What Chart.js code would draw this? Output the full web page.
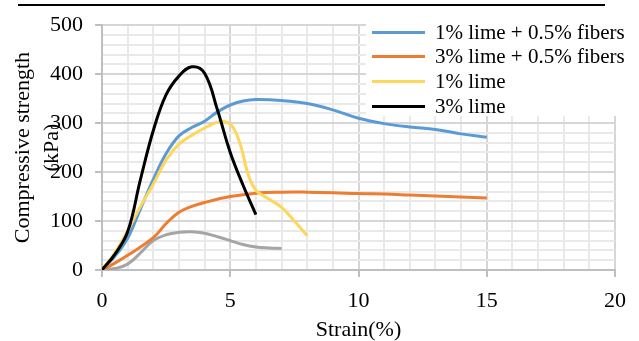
<!DOCTYPE html>
<html>
<head>
<meta charset="utf-8">
<script src="https://cdn.jsdelivr.net/npm/chart.js@4/dist/chart.umd.min.js"></script>
<style>
  html, body { margin: 0; padding: 0; background: #fff; overflow: hidden; }
  #wrap { position: relative; width: 639px; height: 341px; }
  #rule { position: absolute; left: 18px; top: 4px; width: 587px; height: 2px; background: #000; }
  #legend {
    position: absolute; left: 366px; top: 20px; width: 270px; height: 96px;
    background: #fff; font-family: "Liberation Serif", "Times New Roman", serif; font-size: 21px; color: #000;
  }
  .row { display: flex; align-items: center; height: 24.6px; }
  .swatch { width: 53px; height: 3px; margin-left: 6px; margin-right: 10px; }
</style>
</head>
<body>
<div id="wrap">
  <canvas id="chart" width="639" height="341"></canvas>
  <div id="rule"></div>
  <div id="legend"></div>
</div>
<script>
// Strain (%) vs compressive strength (kPa)
const blueStrain = [0, 0.5, 1, 1.5, 2, 2.5, 3, 3.5, 4, 4.5, 5, 5.5, 6, 7, 8, 9, 10, 11, 12, 13, 14, 15];
const blueStress = [0, 28, 65, 125, 185, 238, 274, 291, 304, 323, 337, 345, 348, 346, 340, 327, 310, 299, 292, 287, 278, 271];

const orangeStrain = [0, 0.5, 1, 2, 2.5, 3, 3.5, 4, 5, 6, 7, 8, 9, 10, 11, 12, 13, 14, 15];
const orangeStress = [0, 14, 30, 66, 95, 118, 130, 138, 150, 157, 159, 159, 158, 156, 155, 153, 151, 149, 147];

const yellowStrain = [0, 0.5, 1, 1.5, 2, 2.5, 3, 3.5, 4, 4.5, 4.8, 5.1, 5.4, 5.7, 6, 6.5, 7, 7.5, 8];
const yellowStress = [0, 35, 80, 130, 175, 225, 257, 275, 290, 302, 303, 292, 255, 195, 163, 145, 128, 100, 70];

const blackStrain = [0, 0.5, 1, 1.5, 2, 2.5, 3, 3.5, 4, 4.5, 5, 5.5, 6];
const blackStress = [0, 32, 78, 185, 285, 358, 396, 415, 402, 327, 240, 173, 113];

// unlabelled grey curve (no legend entry)
const greyStrain = [0, 0.5, 1, 1.5, 2, 2.5, 3, 3.5, 4, 4.5, 5, 5.5, 6, 6.5, 7];
const greyStress = [0, 3, 12, 35, 60, 72, 77, 78, 75, 68, 60, 52, 47, 45, 44];

const seriesLabels = ["1% lime + 0.5% fibers", "3% lime + 0.5% fibers", "1% lime", "3% lime"];
const seriesColors = ["#5b9bd5", "#ed7d31", "#ffd65c", "#000000"];

const FONT = "'Liberation Serif', 'Times New Roman', serif";

function toPoints(xs, ys) {
  return xs.map((x, i) => ({ x: x, y: ys[i] }));
}

function lineSet(label, color, xs, ys, order) {
  return {
    label: label,
    data: toPoints(xs, ys),
    borderColor: color,
    backgroundColor: color,
    borderWidth: 3,
    pointRadius: 0,
    tension: 0.4,
    fill: false,
    order: order,
  };
}

const datasets = [
  lineSet("", "#a5a5a5", greyStrain, greyStress, 5),
  lineSet(seriesLabels[0], seriesColors[0], blueStrain, blueStress, 4),
  lineSet(seriesLabels[1], seriesColors[1], orangeStrain, orangeStress, 3),
  lineSet(seriesLabels[2], seriesColors[2], yellowStrain, yellowStress, 2),
  lineSet(seriesLabels[3], seriesColors[3], blackStrain, blackStress, 1),
];

function gridColor(major) {
  return (ctx) => (ctx.tick && ctx.tick.value % major === 0 ? "#d6d6d6" : "#e9e9e9");
}
function tickMarkColor(major) {
  return (ctx) => (ctx.tick && ctx.tick.value % major === 0 ? "#bfbfbf" : "rgba(0,0,0,0)");
}

new Chart(document.getElementById("chart"), {
  type: "line",
  data: { datasets: datasets },
  options: {
    responsive: false,
    animation: false,
    layout: { padding: { top: 21, right: 24, left: 0, bottom: 0 } },
    plugins: { legend: { display: false }, tooltip: { enabled: false } },
    scales: {
      x: {
        type: "linear",
        min: 0,
        max: 20,
        afterFit: (s) => { s.height = 71; },
        border: { color: "#bfbfbf", width: 2 },
        grid: { color: gridColor(5), lineWidth: 2, tickLength: 7, tickColor: tickMarkColor(5) },
        ticks: {
          stepSize: 1,
          autoSkip: false,
          maxRotation: 0,
          padding: 11,
          color: "#000",
          font: { family: FONT, size: 22 },
          callback: (v) => (v % 5 === 0 ? String(v) : ""),
        },
        title: {
          display: true,
          text: "Strain(%)",
          color: "#000",
          font: { family: FONT, size: 22, lineHeight: 1.2 },
          padding: { top: 0, bottom: -2 },
        },
      },
      y: {
        min: 0,
        max: 500,
        afterFit: (s) => { s.width = 102; },
        border: { color: "#bfbfbf", width: 2 },
        grid: { color: gridColor(100), lineWidth: 2, tickLength: 7, tickColor: tickMarkColor(100) },
        ticks: {
          stepSize: 20,
          autoSkip: false,
          padding: 12,
          color: "#000",
          font: { family: FONT, size: 22 },
          callback: (v) => (v % 100 === 0 ? String(v) : ""),
        },
        title: {
          display: true,
          text: ["Compressive strength", "(kPa)"],
          color: "#000",
          font: { family: FONT, size: 22, lineHeight: 1.32 },
          padding: { top: 9, bottom: 0 },
        },
      },
    },
  },
});

// legend built from the same labels and colours
const legendEl = document.getElementById("legend");
seriesLabels.forEach((label, i) => {
  const row = document.createElement("div");
  row.className = "row";
  const sw = document.createElement("span");
  sw.className = "swatch";
  sw.style.background = seriesColors[i];
  const txt = document.createElement("span");
  txt.textContent = label;
  row.appendChild(sw);
  row.appendChild(txt);
  legendEl.appendChild(row);
});
</script>
</body>
</html>
